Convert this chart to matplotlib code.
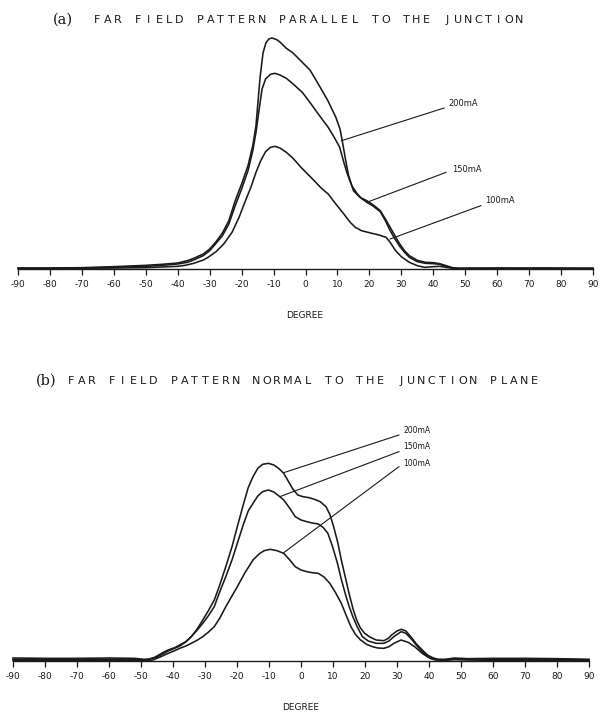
import matplotlib

matplotlib.use("Agg")
import matplotlib.pyplot as plt

# ---- data: far field intensity (arbitrary units) vs angle (degree) ----
# (a) parallel to the junction
deg_a_200 = [-90, -80, -70, -60, -55, -50, -45, -40, -37, -35, -32, -30, -28, -26, -24, -22,
             -20, -18, -16.5, -15.5, -14.8, -14.2, -13.3, -12.4, -11.5, -10.5, -9, -8, -6,
             -3.9, -1, 1.4, 4, 7, 9.5, 10.8, 11.5, 12.5, 13.5, 15, 17, 19.2, 21.5, 23.4, 25,
             26.5, 28, 29.5, 31, 32.5, 35, 37.5, 40, 42, 44, 46, 48, 60, 75, 90]
int_a_200 = [3, 3, 4, 7, 9, 11, 14, 18, 25, 32, 45, 60, 82, 108, 145, 205,
             255, 310, 370, 430, 510, 576, 648, 678, 690, 693, 688, 681, 662,
             648, 620, 597, 555, 505, 455, 420, 385, 330, 280, 235, 215, 205, 190, 175, 150,
             125, 100, 75, 55, 40, 26, 20, 19, 16, 10, 4, 2, 3, 2, 2]

deg_a_150 = [-90, -80, -70, -60, -55, -50, -45, -40, -37, -35, -32, -30, -28, -26, -24, -22,
             -20, -18, -16.5, -15.5, -14.5, -13.6, -12.5, -11, -9.6, -8, -6, -4, -1, 1, 4,
             7.1, 9, 10.7, 12, 13.1, 14.5, 16, 17.5, 19.2, 21, 23.4, 25, 26.5, 28, 29.5, 31,
             32.5, 35, 37.5, 40, 42, 44, 46, 48, 60, 75, 90]
int_a_150 = [2, 2, 3, 5, 7, 8, 11, 15, 20, 27, 40, 55, 77, 100, 135, 190,
             240, 295, 355, 410, 480, 540, 570, 584, 587, 582, 572, 556, 530, 505, 465,
             425, 395, 365, 320, 285, 250, 228, 212, 200, 190, 172, 145, 115, 90, 68, 50,
             35, 22, 17, 16, 14, 8, 3, 2, 2, 3, 2]

deg_a_100 = [-90, -80, -70, -60, -50, -45, -40, -37.7, -35, -32, -30.5, -28, -25.6, -23,
             -20.8, -19, -17.1, -15.5, -14, -12.5, -11, -9.5, -8, -6, -4, -1.4, 2, 5, 7.1,
             9.5, 12, 14, 15.6, 17.5, 20.4, 23, 25.2, 26.5, 28.2, 30, 32.5, 35, 37.3, 40, 42,
             44, 47, 60, 75, 90]
int_a_100 = [1, 1, 2, 3, 4, 6, 8, 11, 17, 27, 35, 52, 75, 110,
             155, 200, 245, 290, 325, 352, 365, 368, 363, 350, 333, 305, 272, 242, 225,
             195, 165, 140, 125, 115, 108, 102, 95, 80, 55, 37, 20, 10, 5, 7, 8,
             5, 1, 1, 1, 1]

# (b) normal to the junction plane
deg_b_200 = [-90, -80, -70, -60, -52, -49, -47.5, -46, -45, -43, -41.5, -39.5, -37.9, -36,
             -34.3, -32.5, -30.7, -29, -27.1, -25.5, -23.5, -21.5, -19.9, -18, -16.5, -15,
             -13.5, -12, -10.2, -8.5, -7, -5.4, -4, -2.5, -1, 0.6, 2.5, 4.2, 6, 7.8, 9, 10.2,
             11.5, 12.6, 14, 15, 16.3, 17.4, 18.5, 19.9, 21.5, 23.5, 25.9, 27.3, 28.3, 30,
             31.3, 32.8, 34.3, 36, 37.9, 39.5, 41.5, 43, 45, 48, 52, 60, 70, 80, 90]
int_b_200 = [9, 8, 8, 9, 8, 5, 6, 10, 15, 26, 33, 40, 48, 58,
             73, 95, 123, 150, 183, 225, 283, 345, 403, 470, 520, 553,
             578, 590, 593, 588, 578, 563, 540, 515, 498, 493, 490, 485, 478, 463, 440, 403,
             355, 303, 245, 203, 155, 123, 100, 83, 72, 63, 61, 68, 78, 90,
             95, 90, 73, 52, 33, 18, 8, 5, 5, 9, 7, 8, 8, 7, 5]

deg_b_150 = [-90, -80, -70, -60, -52, -49, -47.5, -46, -45, -43, -41.5, -39.5, -37.9, -36,
             -34.3, -32.5, -30.7, -29, -27.1, -25.5, -23.5, -21.5, -19.9, -18, -16.5, -15,
             -13.5, -12, -10.2, -8.5, -7, -5.4, -3.5, -1.8, 0, 1.8, 3.5, 5.4, 7, 8.4, 9.8,
             11.4, 12.6, 13.8, 15, 16.2, 17.7, 19.2, 21, 23.5, 25.9, 27.5, 29, 31.3, 32.8,
             34.3, 36, 37.9, 39.5, 41.5, 43, 45, 48, 52, 60, 70, 80, 90]
int_b_150 = [5, 5, 5, 5, 5, 3, 5, 9, 12, 22, 30, 38, 45, 57,
             73, 92, 113, 135, 163, 205, 253, 305, 353, 410, 450, 473,
             495, 508, 513, 507, 496, 483, 458, 433, 423, 418, 414, 411, 400, 383, 345,
             293, 245, 203, 165, 133, 100, 73, 60, 53, 53, 60, 73, 88, 83,
             68, 48, 28, 15, 8, 4, 4, 6, 5, 5, 5, 5, 4]

deg_b_100 = [-90, -80, -70, -60, -52, -48, -46.3, -44, -41.5, -39.5, -37.9, -36, -34.3,
             -32.5, -30.7, -29, -27.1, -25.3, -23.5, -21.7, -19.9, -17.5, -15, -13, -11.5,
             -9.6, -7.5, -5.4, -3.5, -1.8, 0, 1.8, 3.5, 5.4, 7.2, 9, 10.8, 12.6, 14.2, 15.6,
             17, 18.6, 20.5, 22.3, 24, 25.9, 27.5, 29, 31.3, 33.5, 35.5, 38, 40.3, 42, 45, 48,
             52, 60, 70, 80, 90]
int_b_100 = [2, 2, 2, 2, 2, 1, 3, 12, 23, 31, 38, 45, 53,
             62, 73, 86, 103, 130, 163, 193, 223, 265, 303, 322, 331,
             335, 331, 323, 303, 283, 273, 268, 265, 263, 252, 233, 205, 173, 135, 103,
             80, 63, 50, 43, 39, 38, 43, 53, 63, 56, 43, 22, 8, 3, 2, 4,
             3, 2, 2, 2, 2]

ticks = list(range(-90, 91, 10))
currents = ["200mA", "150mA", "100mA"]

# label anchor (deg, intensity) and leader line (start, end on the curve)
labels_a = [(44.6, 495, 43.4, 483, 11.3, 385),
            (45.8, 300, 44.0, 290, 19.2, 200),
            (56.1, 205, 54.9, 190, 26.5, 90)]
labels_b = [(31.9, 691, 30.6, 678, -5.4, 565),
            (31.9, 643, 30.6, 628, -6.6, 493),
            (31.9, 593, 30.6, 583, -5.4, 325)]

W, H = 602, 717
INK = "#1a1a1a"


def fx(px):
    return px / W


def fy(py):
    return 1 - py / H


def spaced_text(fig, x0, y, s, pitch, size):
    # plotter style lettering: one glyph per fixed cell
    for i, ch in enumerate(s):
        if ch == " ":
            continue
        fig.text(fx(x0 + i * pitch + pitch / 2), fy(y), ch, ha="center", va="center",
                 fontsize=size, color=INK, family="DejaVu Sans")


def setup_axis(ax, ymax):
    ax.set_xlim(-90, 90)
    ax.set_ylim(0, ymax)
    for side in ["top", "left", "right"]:
        ax.spines[side].set_visible(False)
    ax.spines["bottom"].set_linewidth(1.0)
    ax.spines["bottom"].set_color(INK)
    ax.set_yticks([])
    ax.set_xticks(ticks)
    ax.set_xticklabels([str(t) for t in ticks])
    ax.tick_params(axis="x", direction="out", length=4, width=0.9, color=INK,
                   labelsize=6.5, labelcolor=INK, pad=4)
    ax.patch.set_alpha(0)


fig = plt.figure(figsize=(W / 100, H / 100), dpi=100)

# (a) parallel to the junction
ax1 = fig.add_axes([fx(18), fy(269), fx(575), (269 - 30) / H])
setup_axis(ax1, 717)
for d, v in [(deg_a_200, int_a_200), (deg_a_150, int_a_150), (deg_a_100, int_a_100)]:
    ax1.plot(d, v, color=INK, lw=1.15, clip_on=False, solid_joinstyle="round")
for (lx, ly, x0, y0, x1, y1), name in zip(labels_a, currents):
    ax1.plot([x0, x1], [y0, y1], color=INK, lw=0.8)
    ax1.text(lx, ly, name, fontsize=6, ha="left", va="center", color=INK)

# (b) normal to the junction plane
ax2 = fig.add_axes([fx(13), fy(661), fx(576), (661 - 400) / H])
setup_axis(ax2, 783)
for d, v in [(deg_b_200, int_b_200), (deg_b_150, int_b_150), (deg_b_100, int_b_100)]:
    ax2.plot(d, v, color=INK, lw=1.15, clip_on=False, solid_joinstyle="round")
for (lx, ly, x0, y0, x1, y1), name in zip(labels_b, currents):
    ax2.plot([x0, x1], [y0, y1], color=INK, lw=0.8)
    ax2.text(lx, ly, name, fontsize=5.5, ha="left", va="center", color=INK)

# titles and axis names
fig.text(fx(53), fy(20), "(a)", fontsize=10.5, family="DejaVu Serif", ha="left",
         va="center", color=INK)
spaced_text(fig, 92, 20, "FAR FIELD PATTERN PARALLEL TO THE JUNCTION", 10.3, 8)
fig.text(fx(36), fy(381), "(b)", fontsize=10.5, family="DejaVu Serif", ha="left",
         va="center", color=INK)
spaced_text(fig, 66, 381, "FAR FIELD PATTERN NORMAL TO THE JUNCTION PLANE", 10.3, 8)

fig.text(fx(305), fy(315), "DEGREE", fontsize=6.5, ha="center", va="center", color=INK)
fig.text(fx(301), fy(708), "DEGREE", fontsize=6.5, ha="center", va="center", color=INK)

fig.savefig("out.png", dpi=100)
